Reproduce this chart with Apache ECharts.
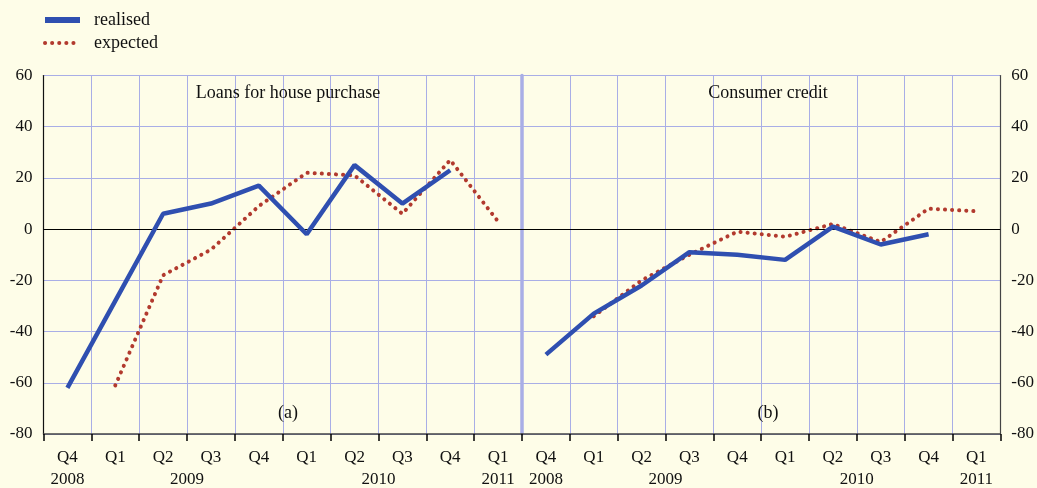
<!DOCTYPE html>
<html>
<head>
<meta charset="utf-8">
<script src="https://cdn.jsdelivr.net/npm/echarts@6/dist/echarts.min.js"></script>
<style>
  html, body { margin: 0; padding: 0; background: #fefde8; }
  #chart { width: 1037px; height: 488px; }
</style>
</head>
<body>
<div id="chart"></div>
<script>
// quarters Q4 2008 .. Q1 2011
const quarters = ["Q4", "Q1", "Q2", "Q3", "Q4", "Q1", "Q2", "Q3", "Q4", "Q1"];
const yearValues = [0.5, 3, 7, 9.5];
const yearLabels = ["2008", "2009", "2010", "2011"];

// panel (a) loans for house purchase
const houseRealised = [-62, -28, 6, 10, 17, -2, 25, 10, 23, null];
const houseExpected = [null, -61, -18, -8, 9, 22, 21, 6, 27, 3];
// panel (b) consumer credit
const consumerRealised = [-49, -33, -22, -9, -10, -12, 1, -6, -2, null];
const consumerExpected = [null, -34, -20, -10, -1, -3, 2, -5, 8, 7];

const yTicks = { min: -80, max: 60, interval: 20 };

const font = "Liberation Serif";
const gridColor = "#a9aee6";
const blue = "#2f4fb0";
const red = "#b23a2e";
const dots = [0.1, 7];

const chart = echarts.init(document.getElementById("chart"));

function catAxis(gridIndex) {
  return {
    type: "category",
    gridIndex: gridIndex,
    data: quarters,
    boundaryGap: true,
    axisLine: { show: true, onZero: false, lineStyle: { color: "#444", width: 1.5 } },
    axisTick: { show: true, length: 7, lineStyle: { color: "#000", width: 1.5 } },
    axisLabel: { color: "#111", fontFamily: font, fontSize: 17, margin: 15 },
    splitLine: { show: true, lineStyle: { color: gridColor, width: 1 } },
  };
}

function yearAxis(gridIndex) {
  return {
    type: "value",
    gridIndex: gridIndex,
    min: 0,
    max: 10,
    position: "bottom",
    axisLine: { show: false, onZero: false },
    axisTick: { show: false },
    splitLine: { show: false },
    axisLabel: {
      customValues: yearValues,
      formatter: (v) => yearLabels[yearValues.indexOf(v)],
      color: "#111",
      fontFamily: font,
      fontSize: 17,
      margin: 37,
    },
  };
}

function valAxis(gridIndex, pos, showLabels, lineColor, lineWidth) {
  return {
    type: "value",
    gridIndex: gridIndex,
    position: pos,
    min: yTicks.min,
    max: yTicks.max,
    interval: yTicks.interval,
    axisLine: { show: true, onZero: false, lineStyle: { color: lineColor, width: lineWidth } },
    axisTick: { show: false },
    axisLabel: { show: showLabels, color: "#111", fontFamily: font, fontSize: 17, margin: 11 },
    splitLine: { show: true, lineStyle: { color: gridColor, width: 1 } },
  };
}

const zeroLine = {
  silent: true,
  symbol: "none",
  label: { show: false },
  lineStyle: { color: "#000", width: 1, type: "solid" },
  data: [{ yAxis: 0 }],
};

function realisedSeries(data, xi, yi) {
  return {
    name: "realised",
    type: "line",
    xAxisIndex: xi,
    yAxisIndex: yi,
    data: data,
    showSymbol: false,
    symbol: "none",
    lineStyle: { color: blue, width: 4.5 },
    itemStyle: { color: blue },
    z: 5,
    markLine: zeroLine,
  };
}

function expectedSeries(data, xi, yi) {
  return {
    name: "expected",
    type: "line",
    xAxisIndex: xi,
    yAxisIndex: yi,
    data: data,
    showSymbol: false,
    symbol: "none",
    lineStyle: { color: red, width: 4, type: dots, cap: "round" },
    itemStyle: { color: red },
    z: 4,
  };
}

const titleStyle = { fontFamily: font, fontSize: 18, fontWeight: "normal", color: "#111" };

const option = {
  backgroundColor: "#fefde8",
  animation: false,
  textStyle: { fontFamily: font },
  legend: {
    orient: "vertical",
    left: 37,
    top: 6,
    itemWidth: 35,
    itemHeight: 14,
    itemGap: 5,
    data: [
      { name: "realised", lineStyle: { color: blue, width: 6 } },
      { name: "expected", lineStyle: { color: red, width: 4, type: dots, cap: "round" } },
    ],
    itemStyle: { opacity: 0 },
    textStyle: { fontFamily: font, fontSize: 18, color: "#111", padding: [0, 0, 0, 9] },
  },
  title: [
    { text: "Loans for house purchase", left: 283, top: 79, textAlign: "center", textStyle: titleStyle },
    { text: "Consumer credit", left: 763, top: 79, textAlign: "center", textStyle: titleStyle },
    { text: "(a)", left: 283, top: 399, textAlign: "center", textStyle: titleStyle },
    { text: "(b)", left: 763, top: 399, textAlign: "center", textStyle: titleStyle },
  ],
  grid: [
    { left: 43.5, top: 75.5, width: 478.5, bottom: 50 },
    { left: 522, top: 75.5, width: 483, bottom: 50 },
  ],
  xAxis: [catAxis(0), catAxis(1), yearAxis(0), yearAxis(1)],
  yAxis: [
    valAxis(0, "left", true, "#111", 1.2),
    valAxis(1, "right", true, "#444", 1.2),
    valAxis(1, "left", false, gridColor, 3.5),
  ],
  series: [
    realisedSeries(houseRealised, 0, 0),
    expectedSeries(houseExpected, 0, 0),
    realisedSeries(consumerRealised, 1, 1),
    expectedSeries(consumerExpected, 1, 1),
  ],
};

chart.setOption(option);
</script>
</body>
</html>
